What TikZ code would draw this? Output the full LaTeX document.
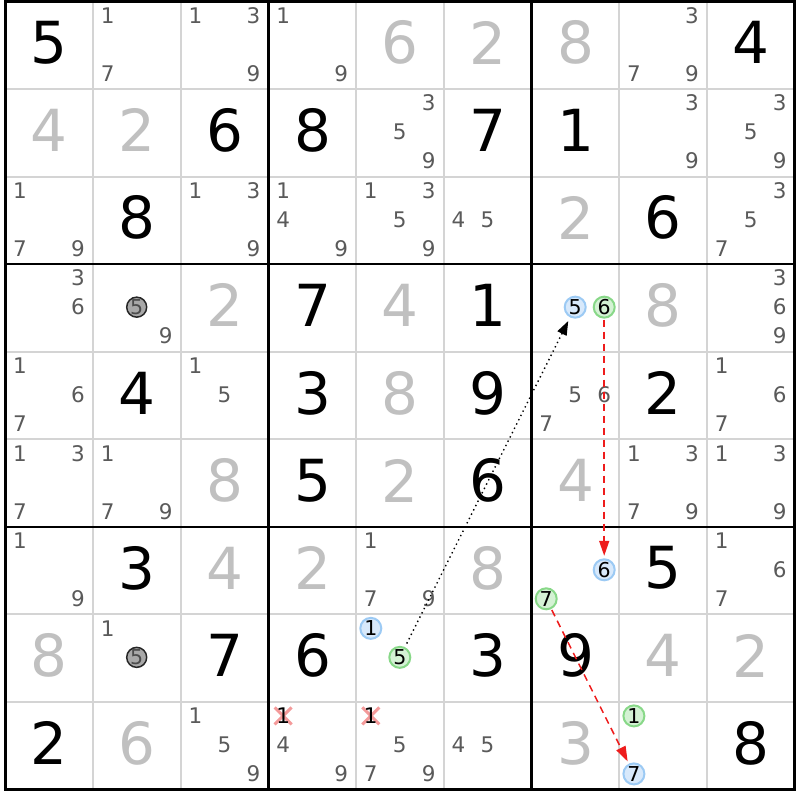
\documentclass[tikz,border=0pt]{standalone}
\usepackage{fontspec}
\setmainfont{DejaVu Sans}
\usetikzlibrary{arrows.meta,shapes.misc}
\definecolor{givengray}{HTML}{C0C0C0}
\definecolor{pencil}{HTML}{5A5A5A}
\definecolor{thingrid}{HTML}{D4D4D4}
\definecolor{bluef}{HTML}{D8E9FB}
\definecolor{blued}{HTML}{9CCAF4}
\definecolor{greenf}{HTML}{D4F2D4}
\definecolor{greend}{HTML}{88D888}
\definecolor{grayf}{HTML}{A8A8A8}
\definecolor{arrowred}{HTML}{EE1C1C}
\definecolor{xpink}{HTML}{F49A9A}
\newcommand\SubXY[3]{%
  \pgfmathsetmacro\sxp{5.5+(#2-1)*87.7+14.5+mod(#3-1,3)*29}%
  \pgfmathsetmacro\syp{1.5+(#1-1)*87.55+14+div(#3-1,3)*29}}
\newcommand\BigDig[4]{\node[bigd,text=#4] (d-#1-#2) at ({5.5+(#2-0.5)*87.7},{1.5+(#1-0.5)*87.55-2.5}) {#3};}
\newcommand\PenMarks[3]{\foreach \k in {#3}{\SubXY{#1}{#2}{\k}\node[pen] (p-#1-#2-\k) at (\sxp,\syp) {\k};}}
\newcommand\Cand[4]{\SubXY{#1}{#2}{#3}\node[cand,#4] (c-#1-#2-#3) at (\sxp,\syp) {#3};}
\newcommand\Struck[3]{\SubXY{#1}{#2}{#3}\node[xmarkbox] (x-#1-#2-#3) at (\sxp,\syp) {};\node[pen,text=black] (p-#1-#2-#3) at (\sxp,\syp) {#3};}
\begin{document}
\begin{tikzpicture}[x=1pt,y=-1pt,
  bigd/.style={inner sep=0pt,font=\fontsize{58}{58}\selectfont},
  pen/.style={inner sep=0pt,text=pencil,font=\fontsize{21.5}{21.5}\selectfont},
  cand/.style={circle,inner sep=0pt,minimum size=21pt,line width=2pt,text=black,font=\fontsize{20.5}{20.5}\selectfont},
  cblue/.style={fill=bluef,draw=blued},
  cgreen/.style={fill=greenf,draw=greend},
  cgray/.style={fill=grayf,draw=black!85,line width=1.5pt,minimum size=20pt,text=pencil!85!black},
  xmarkbox/.style={cross out,draw=xpink,line width=3pt,minimum size=14pt,inner sep=0pt},
  thinline/.style={thingrid,line width=2pt},
  thickline/.style={black,line width=2.6pt},
  dotarrow/.style={black,line width=1.4pt,dash pattern=on 1.4pt off 3.4pt,shorten <=4pt,shorten >=4pt,-{Triangle[length=14pt,width=10pt]}},
  redarrow/.style={arrowred,line width=1.5pt,dash pattern=on 7pt off 5pt,shorten <=1pt,shorten >=2.5pt,-{Triangle[length=15pt,width=10pt]}}
]
\useasboundingbox (0,0) rectangle (800,800);
\fill[white] (0,0) rectangle (800,800);
% grid
\foreach \i in {1,2,4,5,7,8}{
  \draw[thinline] ({5.5+\i*87.7},1.5) -- ({5.5+\i*87.7},789.5);
  \draw[thinline] (5.5,{1.5+\i*87.55}) -- (794.8,{1.5+\i*87.55});}
\foreach \i in {3,6}{
  \draw[thickline] ({5.5+\i*87.7},1.5) -- ({5.5+\i*87.7},789.5);
  \draw[thickline] (5.5,{1.5+\i*87.55}) -- (794.8,{1.5+\i*87.55});}
\draw[black,line width=3pt] (5.5,1.5) rectangle (794.8,789.5);
% big digits
\BigDig{1}{1}{5}{black}\BigDig{1}{5}{6}{givengray}\BigDig{1}{6}{2}{givengray}\BigDig{1}{7}{8}{givengray}\BigDig{1}{9}{4}{black}
\BigDig{2}{1}{4}{givengray}\BigDig{2}{2}{2}{givengray}\BigDig{2}{3}{6}{black}\BigDig{2}{4}{8}{black}\BigDig{2}{6}{7}{black}\BigDig{2}{7}{1}{black}
\BigDig{3}{2}{8}{black}\BigDig{3}{7}{2}{givengray}\BigDig{3}{8}{6}{black}
\BigDig{4}{3}{2}{givengray}\BigDig{4}{4}{7}{black}\BigDig{4}{5}{4}{givengray}\BigDig{4}{6}{1}{black}\BigDig{4}{8}{8}{givengray}
\BigDig{5}{2}{4}{black}\BigDig{5}{4}{3}{black}\BigDig{5}{5}{8}{givengray}\BigDig{5}{6}{9}{black}\BigDig{5}{8}{2}{black}
\BigDig{6}{3}{8}{givengray}\BigDig{6}{4}{5}{black}\BigDig{6}{5}{2}{givengray}\BigDig{6}{6}{6}{black}\BigDig{6}{7}{4}{givengray}
\BigDig{7}{2}{3}{black}\BigDig{7}{3}{4}{givengray}\BigDig{7}{4}{2}{givengray}\BigDig{7}{6}{8}{givengray}\BigDig{7}{8}{5}{black}
\BigDig{8}{1}{8}{givengray}\BigDig{8}{3}{7}{black}\BigDig{8}{4}{6}{black}\BigDig{8}{6}{3}{black}\BigDig{8}{7}{9}{black}\BigDig{8}{8}{4}{givengray}\BigDig{8}{9}{2}{givengray}
\BigDig{9}{1}{2}{black}\BigDig{9}{2}{6}{givengray}\BigDig{9}{7}{3}{givengray}\BigDig{9}{9}{8}{black}
% pencil marks
\PenMarks{1}{2}{1,7}\PenMarks{1}{3}{1,3,9}\PenMarks{1}{4}{1,9}\PenMarks{1}{8}{3,7,9}
\PenMarks{2}{5}{3,5,9}\PenMarks{2}{8}{3,9}\PenMarks{2}{9}{3,5,9}
\PenMarks{3}{1}{1,7,9}\PenMarks{3}{3}{1,3,9}\PenMarks{3}{4}{1,4,9}\PenMarks{3}{5}{1,3,5,9}\PenMarks{3}{6}{4,5}\PenMarks{3}{9}{3,5,7}
\PenMarks{4}{1}{3,6}\PenMarks{4}{2}{9}\PenMarks{4}{9}{3,6,9}
\PenMarks{5}{1}{1,6,7}\PenMarks{5}{3}{1,5}\PenMarks{5}{7}{5,6,7}\PenMarks{5}{9}{1,6,7}
\PenMarks{6}{1}{1,3,7}\PenMarks{6}{2}{1,7,9}\PenMarks{6}{8}{1,3,7,9}\PenMarks{6}{9}{1,3,9}
\PenMarks{7}{1}{1,9}\PenMarks{7}{5}{1,7,9}\PenMarks{7}{9}{1,6,7}
\PenMarks{8}{2}{1}
\PenMarks{9}{3}{1,5,9}\PenMarks{9}{4}{4,9}\PenMarks{9}{5}{5,7,9}\PenMarks{9}{6}{4,5}
% struck candidates
\Struck{9}{4}{1}\Struck{9}{5}{1}
% circled candidates
\Cand{4}{2}{5}{cgray}\Cand{8}{2}{5}{cgray}
\Cand{4}{7}{5}{cblue}\Cand{4}{7}{6}{cgreen}
\Cand{7}{7}{6}{cblue}\Cand{7}{7}{7}{cgreen}
\Cand{8}{5}{1}{cblue}\Cand{8}{5}{5}{cgreen}
\Cand{9}{8}{1}{cgreen}\Cand{9}{8}{7}{cblue}
% links
\draw[dotarrow] (c-8-5-5) -- (c-4-7-5);
\draw[redarrow] (c-4-7-6) -- (c-7-7-6);
\draw[redarrow] (c-7-7-7) -- (c-9-8-7);
\end{tikzpicture}
\end{document}
